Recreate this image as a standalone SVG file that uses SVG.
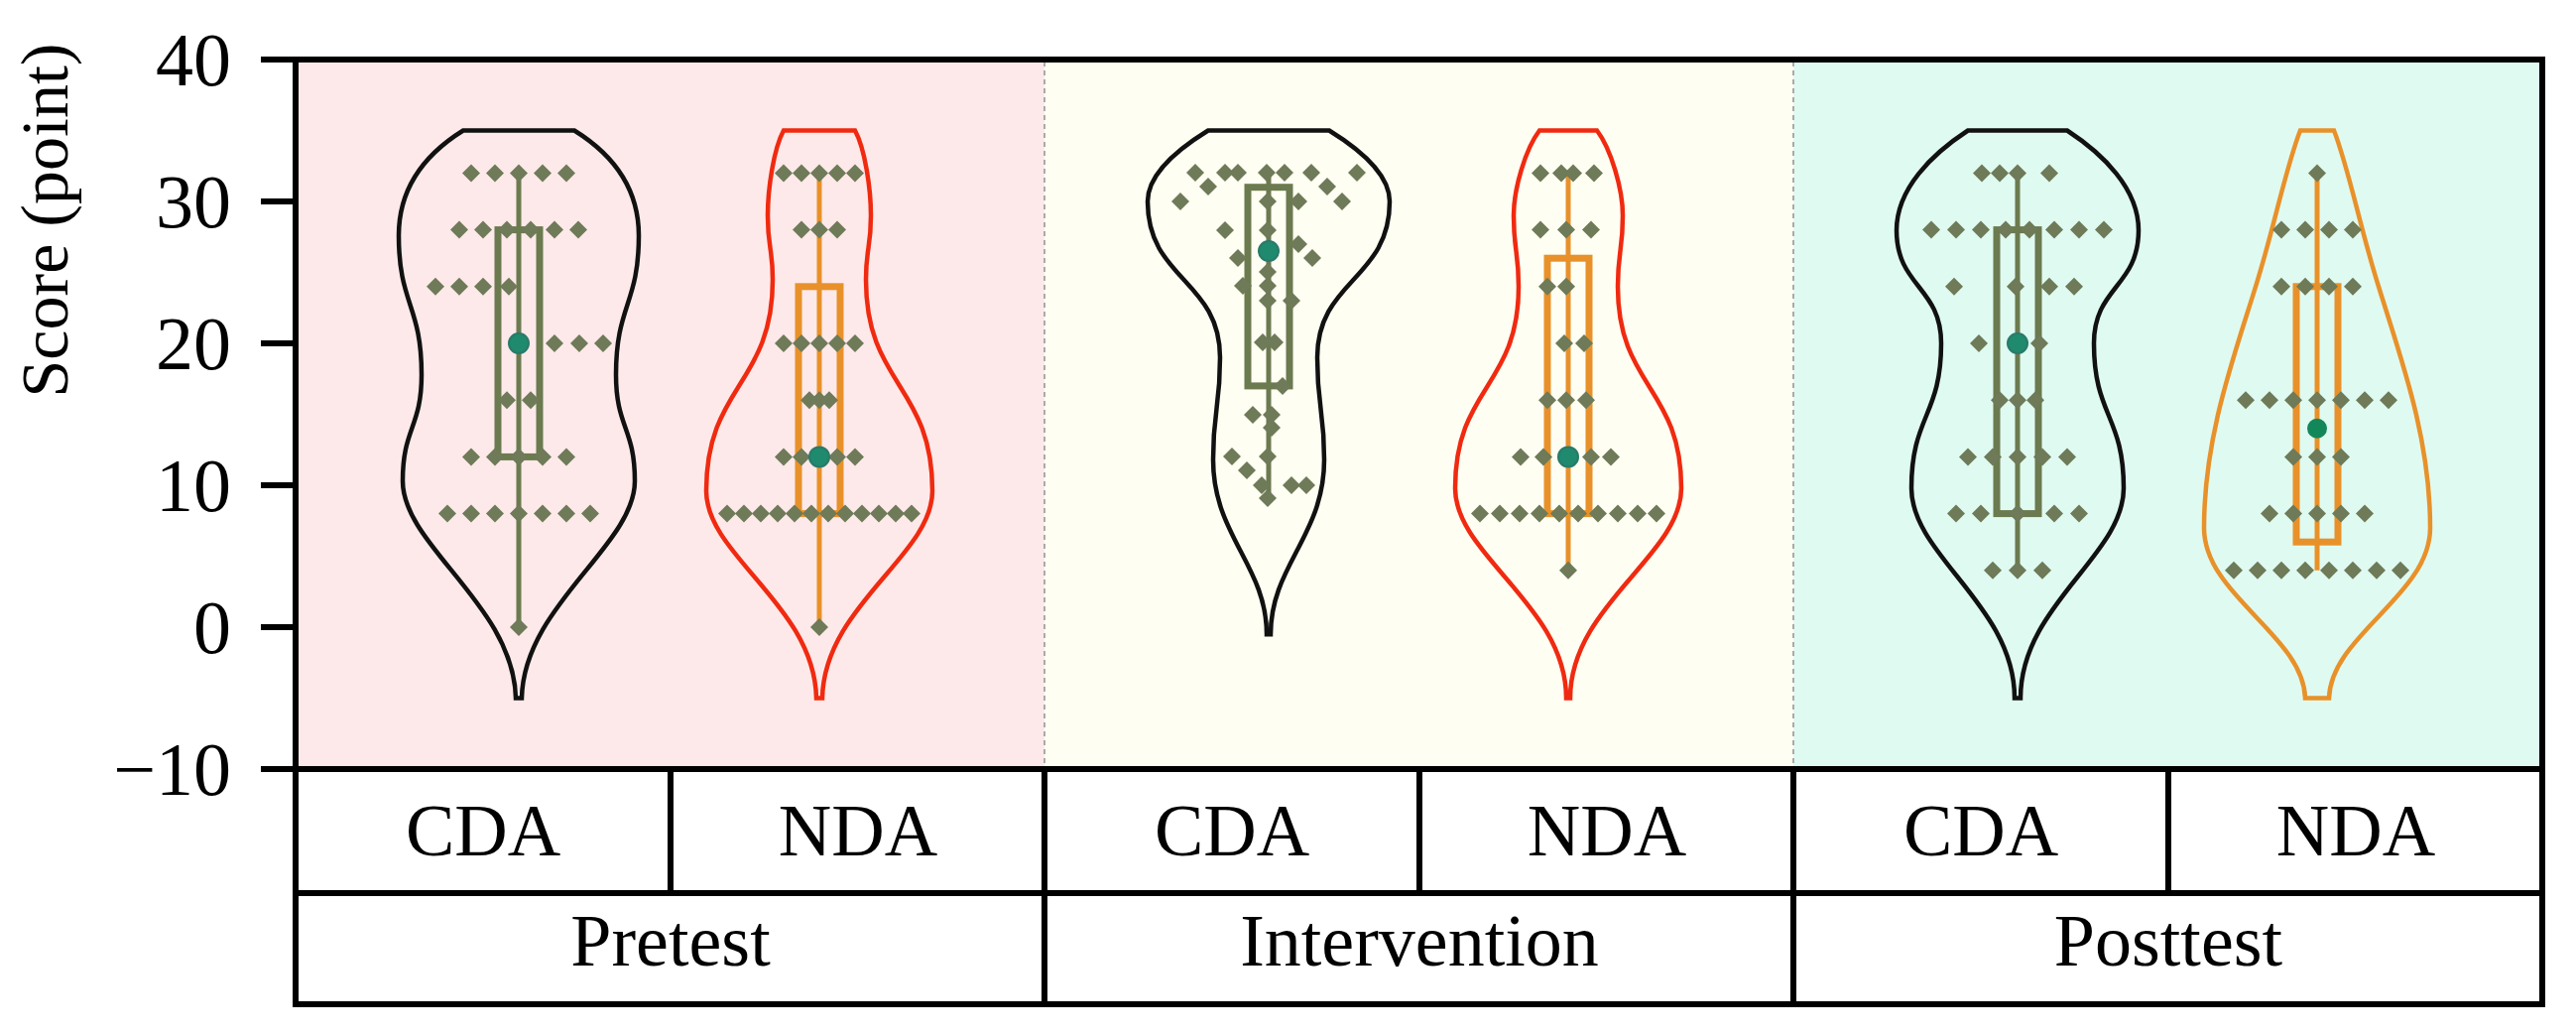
<svg xmlns="http://www.w3.org/2000/svg" xmlns:xlink="http://www.w3.org/1999/xlink" width="2597" height="1043" viewBox="0 0 2597 1043">
<style>
.t{font-family:"Liberation Serif","Times New Roman",serif;fill:#000}
.tick{font-size:76px;text-anchor:end}
.cat{font-size:74px;text-anchor:middle}
.vio{fill:none;stroke-width:4.5}
.ol{stroke:#6b7a4f;fill:none}
.or{stroke:#e8912a;fill:none}
.box{stroke-width:7}
.wh{stroke-width:5}
.mean{fill:#1f8a6e;stroke:#2a7a6a;stroke-width:2}
.ln{stroke:#000;stroke-width:6;fill:none}
.dash{stroke:#aaa;stroke-width:2;stroke-dasharray:5 4}
</style>
<defs><path id="d" d="M0,-9 L9,0 L0,9 L-9,0Z" fill="#6e7a58"/></defs>
<rect width="2597" height="1043" fill="#fff"/>
<g id="backgrounds">
<rect x="298" y="60" width="755" height="715" fill="#fde9e9"/>
<rect x="1053" y="60" width="755" height="715" fill="#fefef2"/>
<rect x="1808" y="60" width="755" height="715" fill="#dffaf1"/>
<line class="dash" x1="1053" y1="62" x2="1053" y2="773"/>
<line class="dash" x1="1808" y1="62" x2="1808" y2="773"/>
</g>
<g id="axis">
<line class="ln" x1="263" y1="60" x2="298" y2="60"/><line class="ln" x1="263" y1="203" x2="298" y2="203"/><line class="ln" x1="263" y1="346" x2="298" y2="346"/><line class="ln" x1="263" y1="489" x2="298" y2="489"/><line class="ln" x1="263" y1="632" x2="298" y2="632"/><line class="ln" x1="263" y1="775" x2="298" y2="775"/>
<text class="t tick" x="233" y="86">40</text><text class="t tick" x="233" y="229">30</text><text class="t tick" x="233" y="372">20</text><text class="t tick" x="233" y="515">10</text><text class="t tick" x="233" y="658">0</text><text class="t tick" x="233" y="801">−10</text>
<text class="t" font-size="68" text-anchor="middle" transform="translate(68,222) rotate(-90)">Score (point)</text>
</g>
<g id="v-pre-cda">
<path class="vio" stroke="#111" d="M467,131.5 L579,131.5 C612,152 644,184 644,237.3 C644,307 621,307 621,377.5 C621,431 640,431 640,484.7 C640,550 528,610 526,703.5 L520,703.5 C518,610 406,550 406,484.7 C406,431 425,431 425,377.5 C425,307 402,307 402,237.3 C402,184 434,152 467,131.5 Z"/>
<line class="ol wh" x1="523" y1="174.4" x2="523" y2="632"/><rect class="ol box" x="502" y="231.6" width="42" height="228.8"/>
<g><use href="#d" x="475" y="174.4"/><use href="#d" x="499" y="174.4"/><use href="#d" x="523" y="174.4"/><use href="#d" x="547" y="174.4"/><use href="#d" x="571" y="174.4"/>
<use href="#d" x="463" y="231.6"/><use href="#d" x="487" y="231.6"/><use href="#d" x="511" y="231.6"/><use href="#d" x="535" y="231.6"/><use href="#d" x="559" y="231.6"/><use href="#d" x="583" y="231.6"/>
<use href="#d" x="439" y="288.8"/><use href="#d" x="463" y="288.8"/><use href="#d" x="487" y="288.8"/><use href="#d" x="513" y="288.8"/>
<use href="#d" x="559" y="346"/><use href="#d" x="584" y="346"/><use href="#d" x="608" y="346"/>
<use href="#d" x="511" y="403.2"/><use href="#d" x="535" y="403.2"/>
<use href="#d" x="475" y="460.4"/><use href="#d" x="499" y="460.4"/><use href="#d" x="523" y="460.4"/><use href="#d" x="547" y="460.4"/><use href="#d" x="571" y="460.4"/>
<use href="#d" x="451" y="517.6"/><use href="#d" x="475" y="517.6"/><use href="#d" x="499" y="517.6"/><use href="#d" x="523" y="517.6"/><use href="#d" x="547" y="517.6"/><use href="#d" x="571" y="517.6"/><use href="#d" x="595" y="517.6"/>
<use href="#d" x="523" y="632"/></g>
<circle class="mean" cx="523" cy="346" r="10"/>
</g>
<g id="v-pre-nda">
<path class="vio" stroke="#f02a10" d="M790,131.5 L862,131.5 C872,150 878,190 878,217.3 C878,250 873,250 873,281.7 C873,388 940,388 940,494.7 C940,560 831,610 829,703.5 L823,703.5 C821,610 712,560 712,494.7 C712,388 779,388 779,281.7 C779,250 774,250 774,217.3 C774,190 780,150 790,131.5 Z"/>
<line class="or wh" x1="826" y1="174.4" x2="826" y2="632"/><rect class="or box" x="805" y="288.8" width="42" height="228.8"/>
<g><use href="#d" x="790" y="174.4"/><use href="#d" x="808" y="174.4"/><use href="#d" x="826" y="174.4"/><use href="#d" x="844" y="174.4"/><use href="#d" x="862" y="174.4"/>
<use href="#d" x="808" y="231.6"/><use href="#d" x="826" y="231.6"/><use href="#d" x="844" y="231.6"/>
<use href="#d" x="790" y="346"/><use href="#d" x="808" y="346"/><use href="#d" x="826" y="346"/><use href="#d" x="844" y="346"/><use href="#d" x="862" y="346"/>
<use href="#d" x="816" y="403.2"/><use href="#d" x="826" y="403.2"/><use href="#d" x="836" y="403.2"/>
<use href="#d" x="790" y="460.4"/><use href="#d" x="808" y="460.4"/><use href="#d" x="844" y="460.4"/><use href="#d" x="862" y="460.4"/>
<use href="#d" x="733" y="517.6"/><use href="#d" x="750" y="517.6"/><use href="#d" x="767" y="517.6"/><use href="#d" x="784" y="517.6"/><use href="#d" x="801" y="517.6"/><use href="#d" x="818" y="517.6"/><use href="#d" x="835" y="517.6"/><use href="#d" x="852" y="517.6"/><use href="#d" x="869" y="517.6"/><use href="#d" x="886" y="517.6"/><use href="#d" x="903" y="517.6"/><use href="#d" x="919" y="517.6"/>
<use href="#d" x="826" y="632"/></g>
<circle class="mean" cx="826" cy="460.4" r="10"/>
</g>
<g id="v-int-cda">
<path class="vio" stroke="#111" d="M1218,131.5 L1340,131.5 C1370,150 1401,175 1401,203 C1401,282 1328,282 1328,360.3 C1328,412 1335,412 1335,463.3 C1335,540 1281,570 1281,639.2 L1277,639.2 C1277,570 1223,540 1223,463.3 C1223,412 1230,412 1230,360.3 C1230,282 1157,282 1157,203 C1157,175 1188,150 1218,131.5 Z"/>
<line class="ol wh" x1="1279" y1="174.4" x2="1279" y2="503.3"/><rect class="ol box" x="1258" y="188.7" width="42" height="200.2"/>
<g><use href="#d" x="1205" y="174"/><use href="#d" x="1235" y="174"/><use href="#d" x="1248" y="174"/><use href="#d" x="1277" y="174"/><use href="#d" x="1295" y="174"/><use href="#d" x="1322" y="174"/><use href="#d" x="1368" y="174"/>
<use href="#d" x="1218" y="188"/><use href="#d" x="1338" y="188"/><use href="#d" x="1190" y="203"/><use href="#d" x="1353" y="203"/><use href="#d" x="1309" y="203"/><use href="#d" x="1278" y="203"/>
<use href="#d" x="1235" y="232"/><use href="#d" x="1278" y="232"/><use href="#d" x="1309" y="246"/><use href="#d" x="1248" y="260"/><use href="#d" x="1323" y="260"/><use href="#d" x="1278" y="274"/><use href="#d" x="1253" y="288"/><use href="#d" x="1278" y="288"/><use href="#d" x="1278" y="303"/><use href="#d" x="1302" y="303"/>
<use href="#d" x="1273" y="345"/><use href="#d" x="1285" y="345"/><use href="#d" x="1293" y="389"/><use href="#d" x="1263" y="418"/><use href="#d" x="1282" y="418"/><use href="#d" x="1282" y="431"/><use href="#d" x="1242" y="460"/><use href="#d" x="1278" y="460"/><use href="#d" x="1257" y="474"/><use href="#d" x="1272" y="489"/><use href="#d" x="1302" y="489"/><use href="#d" x="1317" y="489"/><use href="#d" x="1278" y="502"/></g>
<circle class="mean" cx="1279" cy="253" r="10"/>
</g>
<g id="v-int-nda">
<path class="vio" stroke="#f02a10" d="M1552,131.5 L1610,131.5 C1624,150 1636,190 1636,217.3 C1636,253 1631,253 1631,288.8 C1631,390 1695,390 1695,491.9 C1695,560 1583,610 1583,703.5 L1579,703.5 C1579,610 1467,560 1467,491.9 C1467,390 1531,390 1531,288.8 C1531,253 1526,253 1526,217.3 C1526,190 1538,150 1552,131.5 Z"/>
<line class="or wh" x1="1581" y1="174.4" x2="1581" y2="574.8"/><rect class="or box" x="1560" y="260.2" width="42" height="257.4"/>
<g><use href="#d" x="1553" y="174.4"/><use href="#d" x="1574" y="174.4"/><use href="#d" x="1586" y="174.4"/><use href="#d" x="1607" y="174.4"/>
<use href="#d" x="1553" y="231.6"/><use href="#d" x="1579" y="231.6"/><use href="#d" x="1604" y="231.6"/>
<use href="#d" x="1560" y="288.8"/><use href="#d" x="1579" y="288.8"/>
<use href="#d" x="1577" y="346"/><use href="#d" x="1597" y="346"/>
<use href="#d" x="1560" y="403.2"/><use href="#d" x="1579" y="403.2"/><use href="#d" x="1599" y="403.2"/>
<use href="#d" x="1533" y="460.4"/><use href="#d" x="1556" y="460.4"/><use href="#d" x="1604" y="460.4"/><use href="#d" x="1624" y="460.4"/>
<use href="#d" x="1492" y="517.6"/><use href="#d" x="1512" y="517.6"/><use href="#d" x="1532" y="517.6"/><use href="#d" x="1552" y="517.6"/><use href="#d" x="1572" y="517.6"/><use href="#d" x="1591" y="517.6"/><use href="#d" x="1611" y="517.6"/><use href="#d" x="1631" y="517.6"/><use href="#d" x="1651" y="517.6"/><use href="#d" x="1670" y="517.6"/>
<use href="#d" x="1581" y="574.8"/></g>
<circle class="mean" cx="1581" cy="460.4" r="10"/>
</g>
<g id="v-post-cda">
<path class="vio" stroke="#111" d="M1984,131.5 L2084,131.5 C2120,155 2156,190 2156,232 C2156,289 2111,289 2111,346 C2111,419 2141,419 2141,491.9 C2141,560 2037,610 2037,703.5 L2031,703.5 C2031,610 1927,560 1927,491.9 C1927,419 1957,419 1957,346 C1957,289 1912,289 1912,232 C1912,190 1948,155 1984,131.5 Z"/>
<line class="ol wh" x1="2034" y1="174.4" x2="2034" y2="574.8"/><rect class="ol box" x="2013" y="231.6" width="42" height="286"/>
<g><use href="#d" x="1998" y="174.4"/><use href="#d" x="2016" y="174.4"/><use href="#d" x="2034" y="174.4"/><use href="#d" x="2066" y="174.4"/>
<use href="#d" x="1947" y="231.6"/><use href="#d" x="1972" y="231.6"/><use href="#d" x="1997" y="231.6"/><use href="#d" x="2022" y="231.6"/><use href="#d" x="2046" y="231.6"/><use href="#d" x="2071" y="231.6"/><use href="#d" x="2096" y="231.6"/><use href="#d" x="2121" y="231.6"/>
<use href="#d" x="1970" y="288.8"/><use href="#d" x="2032" y="288.8"/><use href="#d" x="2066" y="288.8"/><use href="#d" x="2091" y="288.8"/>
<use href="#d" x="1995" y="346"/><use href="#d" x="2056" y="346"/>
<use href="#d" x="2016" y="403.2"/><use href="#d" x="2034" y="403.2"/><use href="#d" x="2052" y="403.2"/>
<use href="#d" x="1984" y="460.4"/><use href="#d" x="2009" y="460.4"/><use href="#d" x="2034" y="460.4"/><use href="#d" x="2059" y="460.4"/><use href="#d" x="2084" y="460.4"/>
<use href="#d" x="1972" y="517.6"/><use href="#d" x="1997" y="517.6"/><use href="#d" x="2034" y="517.6"/><use href="#d" x="2071" y="517.6"/><use href="#d" x="2096" y="517.6"/>
<use href="#d" x="2009" y="574.8"/><use href="#d" x="2034" y="574.8"/><use href="#d" x="2059" y="574.8"/></g>
<circle class="mean" cx="2034" cy="346" r="10"/>
</g>
<g id="v-post-nda">
<path class="vio" stroke="#e8912a" d="M2319,131.5 L2353,131.5 C2368,170 2380,232 2398,288.8 C2420,360 2450,440 2450,531.9 C2450,600 2350,640 2348,703.5 L2324,703.5 C2322,640 2222,600 2222,531.9 C2222,440 2252,360 2274,288.8 C2292,232 2304,170 2319,131.5 Z"/>
<line class="or wh" x1="2336" y1="174.4" x2="2336" y2="574.8"/><rect class="or box" x="2315" y="288.8" width="42" height="257.4"/>
<g><use href="#d" x="2336" y="174.4"/>
<use href="#d" x="2300" y="231.6"/><use href="#d" x="2324" y="231.6"/><use href="#d" x="2348" y="231.6"/><use href="#d" x="2372" y="231.6"/>
<use href="#d" x="2300" y="288.8"/><use href="#d" x="2324" y="288.8"/><use href="#d" x="2348" y="288.8"/><use href="#d" x="2372" y="288.8"/>
<use href="#d" x="2264" y="403.2"/><use href="#d" x="2288" y="403.2"/><use href="#d" x="2312" y="403.2"/><use href="#d" x="2336" y="403.2"/><use href="#d" x="2360" y="403.2"/><use href="#d" x="2384" y="403.2"/><use href="#d" x="2408" y="403.2"/>
<use href="#d" x="2312" y="460.4"/><use href="#d" x="2336" y="460.4"/><use href="#d" x="2360" y="460.4"/>
<use href="#d" x="2288" y="517.6"/><use href="#d" x="2312" y="517.6"/><use href="#d" x="2336" y="517.6"/><use href="#d" x="2360" y="517.6"/><use href="#d" x="2384" y="517.6"/>
<use href="#d" x="2252" y="574.8"/><use href="#d" x="2276" y="574.8"/><use href="#d" x="2300" y="574.8"/><use href="#d" x="2324" y="574.8"/><use href="#d" x="2348" y="574.8"/><use href="#d" x="2372" y="574.8"/><use href="#d" x="2396" y="574.8"/><use href="#d" x="2420" y="574.8"/></g>
<circle cx="2336" cy="431.8" r="10" fill="#12875a"/>
</g>
<g id="frame">
<rect class="ln" x="298" y="60" width="2265" height="952"/>
<line class="ln" x1="298" y1="775" x2="2563" y2="775"/>
<line class="ln" x1="298" y1="900" x2="2563" y2="900"/>
<line class="ln" x1="676" y1="775" x2="676" y2="900"/><line class="ln" x1="1431" y1="775" x2="1431" y2="900"/><line class="ln" x1="2186" y1="775" x2="2186" y2="900"/>
<line class="ln" x1="1053" y1="775" x2="1053" y2="1012"/><line class="ln" x1="1808" y1="775" x2="1808" y2="1012"/>
</g>
<g id="labels">
<text class="t cat" x="487" y="862">CDA</text><text class="t cat" x="865" y="862">NDA</text>
<text class="t cat" x="1242" y="862">CDA</text><text class="t cat" x="1620" y="862">NDA</text>
<text class="t cat" x="1997" y="862">CDA</text><text class="t cat" x="2375" y="862">NDA</text>
<text class="t cat" x="676" y="973">Pretest</text><text class="t cat" x="1431" y="973">Intervention</text><text class="t cat" x="2186" y="973">Posttest</text>
</g>
</svg>
